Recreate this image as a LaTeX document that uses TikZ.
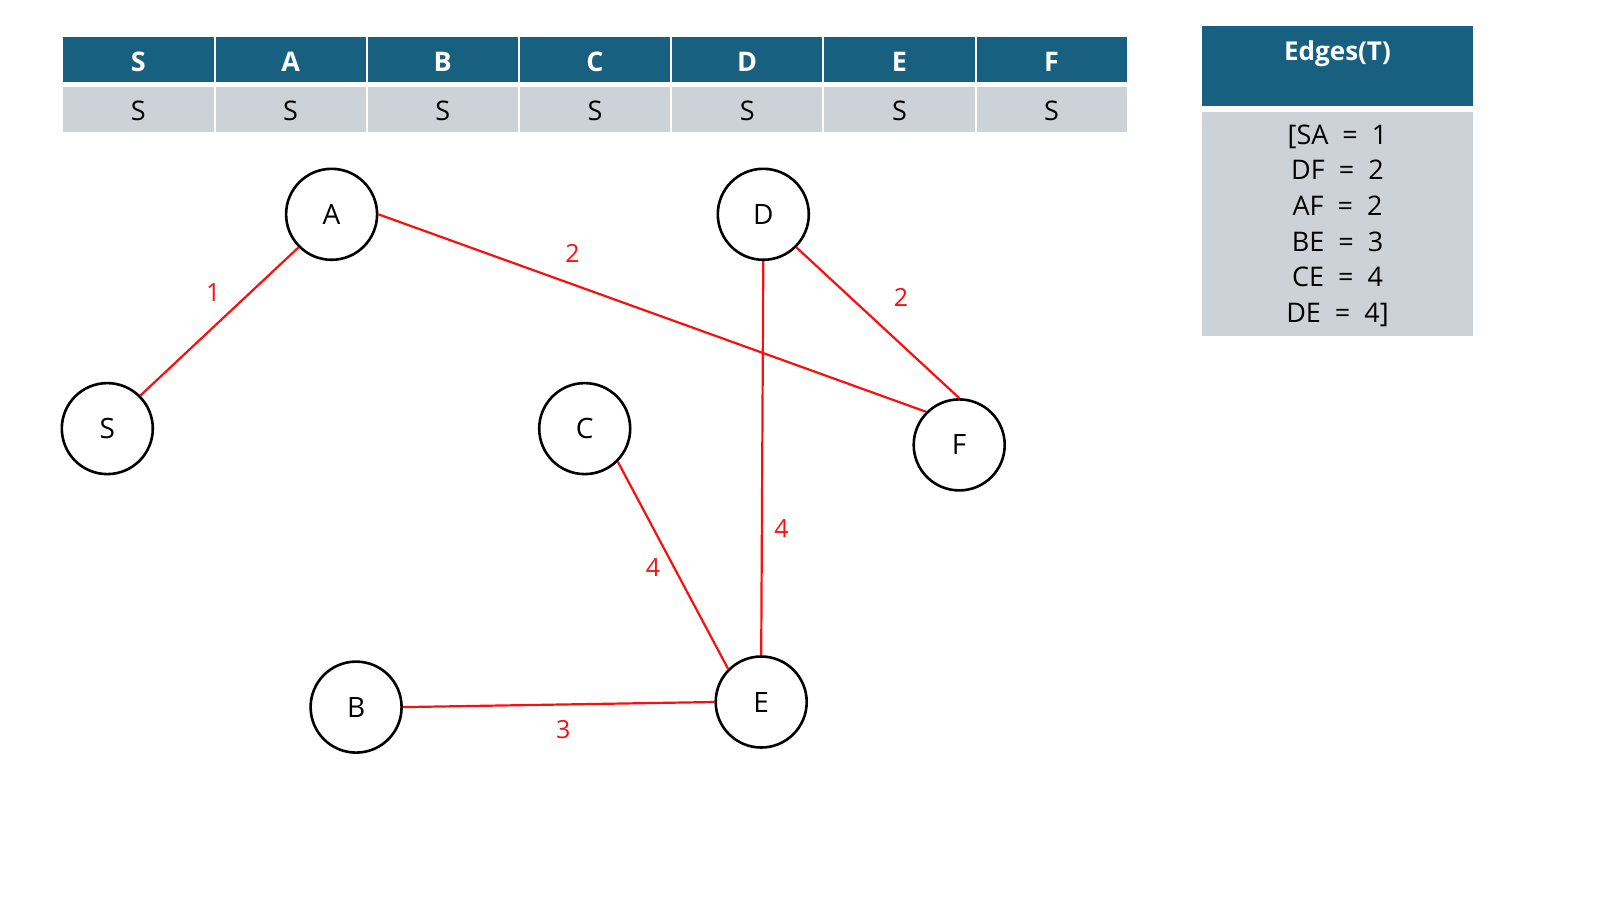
\documentclass[tikz,border=0pt]{standalone}
\usepackage{fontspec}
\setmainfont{Open Sans}
\definecolor{hdr}{RGB}{24,96,128}
\definecolor{cellg}{RGB}{205,210,216}
\definecolor{edgered}{RGB}{250,15,15}
\begin{document}
\begin{tikzpicture}[x=1pt,y=-1pt,
  vtx/.style={circle,draw=black,line width=2.6pt,minimum size=91pt,inner sep=0pt,font=\fontsize{28}{30}\selectfont},
  wedge/.style={draw=edgered,line width=2.2pt},
  wlab/.style={text=edgered,inner sep=0pt,font=\fontsize{25}{28}\selectfont},
  hcell/.style={fill=hdr,inner sep=0pt,minimum width=150.2pt,minimum height=44.4pt},
  gcell/.style={fill=cellg,inner sep=0pt,minimum width=150.2pt,minimum height=45.6pt},
  htext/.style={text=white,inner sep=0pt,font=\bfseries\fontsize{27}{30}\selectfont},
  gtext/.style={text=black,inner sep=0pt,font=\fontsize{27}{30}\selectfont},
  ebox/.style={inner sep=0pt,minimum width=270.4pt}]
\useasboundingbox (0,0) rectangle (1600,900);
% table
\foreach \t [count=\i from 0] in {S,A,B,C,D,E,F}{
  \node[hcell] (h\i) at ({62.3+152.2*(\i+0.5)},59.5) {};
  \node[htext] (ht\i) at ({62.3+152.2*(\i+0.5)},62) {\t};
  \node[gcell] (g\i) at ({62.3+152.2*(\i+0.5)},109.5) {};
  \node[gtext] (gt\i) at ({62.3+152.2*(\i+0.5)},111) {S};
}
% edges box
\node[ebox,fill=hdr,minimum height=80pt] (eh) at (1337.5,66) {};
\node[text=white,inner sep=0pt,font=\bfseries\fontsize{26}{30}\selectfont] (ehl) at (1337.5,54) {Edges(T)};
\node[ebox,fill=cellg,minimum height=224pt] (eb) at (1337.5,223.7) {};
\node[align=center,inner sep=0pt,font=\fontsize{27}{35.7}\selectfont] (ebl) at (1337.5,225.7)
  {[SA~ =~ 1\\DF~ =~ 2\\AF~ =~ 2\\BE~ =~ 3\\CE~ =~ 4\\DE~ =~ 4]};
% vertices
\node[vtx] (A) at (331.6,214.3) {A};
\node[vtx] (D) at (763.3,214.3) {D};
\node[vtx] (S) at (107.3,428.6) {S};
\node[vtx] (C) at (584.7,428.6) {C};
\node[vtx] (F) at (959.2,444.9) {F};
\node[vtx] (B) at (356.1,707.1) {B};
\node[vtx] (E) at (761.2,702.0) {E};
% edges
\draw[wedge] (S.45) -- (A.225);
\draw[wedge] (A.east) -- (F.135);
\draw[wedge] (D.-45) -- (F.north);
\draw[wedge] (D.south) -- (E.north);
\draw[wedge] (C.-45) -- (E.135);
\draw[wedge] (B.east) -- (E.west);
% weights
\node[wlab] (l1) at (213.3,292.9) {1};
\node[wlab] (l2) at (572.4,253.1) {2};
\node[wlab] (l3) at (901.0,297.0) {2};
\node[wlab] (l4) at (781.6,528.6) {4};
\node[wlab] (l5) at (653.0,567.3) {4};
\node[wlab] (l6) at (563.3,729.6) {3};
\end{tikzpicture}
\end{document}
